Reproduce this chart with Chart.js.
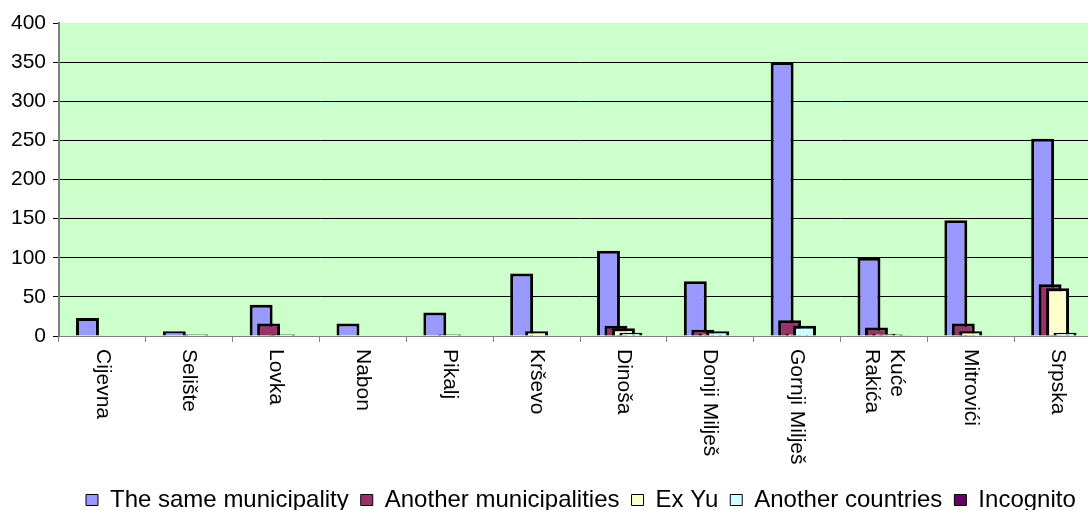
<!DOCTYPE html>
<html>
<head>
<meta charset="utf-8">
<script src="https://cdn.jsdelivr.net/npm/chart.js@4.4.0/dist/chart.umd.min.js"></script>
<style>
  html, body { margin: 0; padding: 0; background: #fff; overflow: hidden; }
</style>
</head>
<body>
<canvas id="chart" width="1101" height="522"></canvas>
<script>
// villages on the x axis
var villages = ['Cijevna', 'Selište', 'Lovka', 'Nabon', 'Pikalj', 'Krševo', 'Dinoša',
  'Donji Milješ', 'Gornji Milješ', ['Kuće', 'Rakića'], 'Mitrovići', 'Srpska'];

// number of people per origin
var sameMunicipality      = [23, 6, 40, 16, 30, 80, 109, 70, 350, 100, 148, 252];
var anotherMunicipalities = [0, 0, 16, 0, 0, 0, 13, 8, 20, 11, 16, 66];
var exYu                  = [0, 0, 0, 0, 2, 6, 10, 3, 3, 3, 6, 61];
var anotherCountries      = [0, 2, 2, 0, 0, 0, 4, 6, 13, 2, 0, 4];
var incognito             = [0, 0, 0, 0, 0, 0, 0, 0, 0, 1, 0, 0];

var yMax = 400;
var yStep = 50;

var font = 'Liberation Sans, Arial, sans-serif';

var ctx = document.getElementById('chart');

// green plot area
var plotBackground = {
  id: 'plotBackground',
  beforeDraw: function(chart) {
    var c = chart.ctx, a = chart.chartArea;
    c.save();
    c.fillStyle = '#fff';
    c.fillRect(0, 0, chart.width, chart.height);
    c.fillStyle = '#ccffcc';
    c.fillRect(a.left, a.top, a.right - a.left, a.bottom - a.top);
    c.restore();
  }
};

// later series are painted over earlier ones (Excel style overlap)
var paintOrder = {
  id: 'paintOrder',
  beforeDatasetsDraw: function(chart) {
    var c = chart.ctx, a = chart.chartArea;
    c.save();
    c.beginPath();
    c.rect(a.left, a.top - 2, a.right - a.left, a.bottom - a.top + 2);
    c.clip();
    chart.getSortedVisibleDatasetMetas().forEach(function(meta) {
      meta.controller.draw();
    });
    c.restore();
    return false;
  }
};

// vertical category labels, reading top to bottom
var rotatedLabels = {
  id: 'rotatedLabels',
  afterDraw: function(chart) {
    var c = chart.ctx, x = chart.scales.x;
    var lineHeight = 25;
    c.save();
    c.fillStyle = '#000';
    c.font = '21px ' + font;
    c.textAlign = 'left';
    c.textBaseline = 'middle';
    for (var i = 0; i < villages.length; i++) {
      var lines = [].concat(villages[i]);
      c.save();
      c.translate(x.getPixelForTick(i), chart.chartArea.bottom + 13);
      c.rotate(Math.PI / 2);
      for (var j = 0; j < lines.length; j++) {
        c.fillText(lines[j], 0, (j - (lines.length - 1) / 2) * lineHeight);
      }
      c.restore();
    }
    c.restore();
  }
};

// legend sits a bit to the right, like in the original
var legendShift = {
  id: 'legendShift',
  afterLayout: function(chart) {
    chart.legend.left = 74;
  }
};

function bars(label, data, color) {
  return {
    label: label,
    data: data,
    backgroundColor: color,
    borderColor: '#000',
    borderWidth: 3,
    categoryPercentage: 0.43,
    barPercentage: 3.07
  };
}

var myChart = new Chart(ctx, {
  type: 'bar',
  data: {
    labels: villages,
    datasets: [
      bars('The same municipality', sameMunicipality, '#9999ff'),
      bars('Another municipalities', anotherMunicipalities, '#993366'),
      bars('Ex Yu', exYu, '#ffffcc'),
      bars('Another countries', anotherCountries, '#ccffff'),
      bars('Incognito', incognito, '#660066')
    ]
  },
  plugins: [plotBackground, paintOrder, rotatedLabels, legendShift],
  options: {
    responsive: false,
    animation: false,
    devicePixelRatio: 1,
    layout: {
      padding: { top: 23, left: 0, right: 0, bottom: 0 }
    },
    plugins: {
      tooltip: { enabled: false },
      legend: {
        position: 'bottom',
        align: 'start',
        labels: {
          color: '#000',
          font: { family: font, size: 24 },
          boxWidth: 12,
          boxHeight: 11,
          padding: 12,
          generateLabels: function(chart) {
            var items = Chart.defaults.plugins.legend.labels.generateLabels(chart);
            items.forEach(function(it) { it.lineWidth = 1; });
            return items;
          }
        }
      }
    },
    scales: {
      x: {
        ticks: { display: false },
        grid: {
          display: true,
          offset: true,
          drawOnChartArea: false,
          drawTicks: true,
          tickLength: 6,
          color: '#808080'
        },
        border: { color: '#808080', width: 1 },
        afterFit: function(scale) { scale.height = 140; }
      },
      y: {
        min: 0,
        max: yMax,
        ticks: {
          stepSize: yStep,
          color: '#000',
          padding: 7,
          font: { family: font, size: 21 }
        },
        grid: {
          color: function(c) {
            if (c.tick.value === yMax) return 'rgba(0,0,0,0)';
            if (c.tick.value === 0) return '#808080';
            return '#000';
          },
          tickColor: '#000',
          tickLength: 6,
          lineWidth: 1
        },
        border: { color: '#808080', width: 2 },
        afterFit: function(scale) { scale.width = 59; }
      }
    }
  }
});
</script>
</body>
</html>
